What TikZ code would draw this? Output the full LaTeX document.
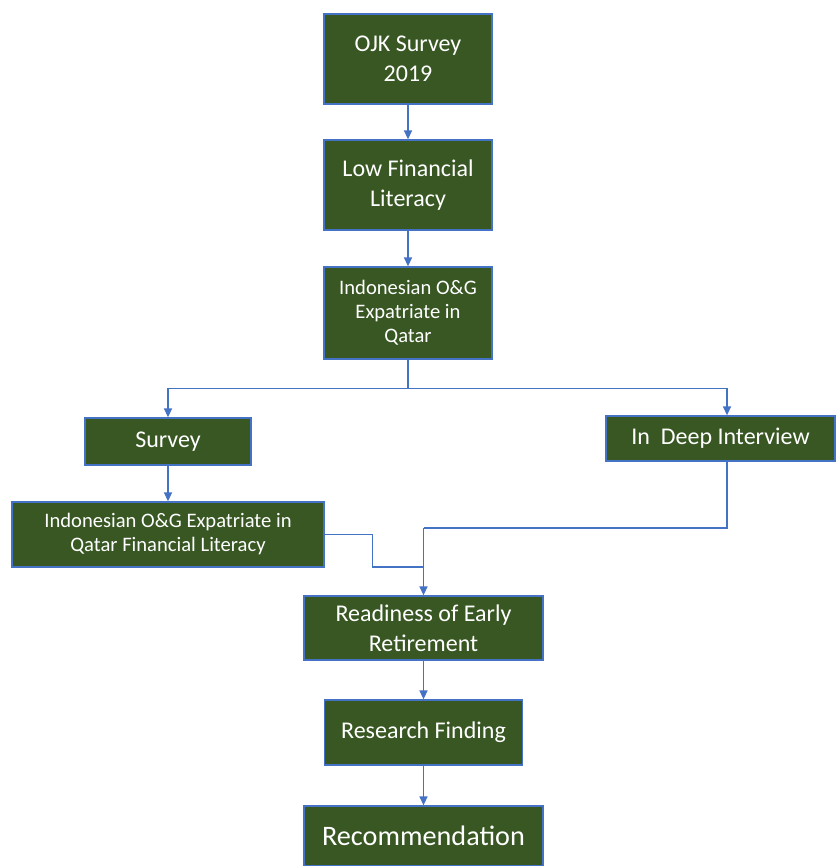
\documentclass[tikz,border=0pt]{standalone}
\usepackage{fontspec}
\setmainfont{Carlito}
\usepackage{tikz}
\usetikzlibrary{arrows.meta,positioning,calc}
\definecolor{boxgreen}{HTML}{385723}
\definecolor{linkblue}{HTML}{4472C4}
\tikzset{
  >={Triangle[length=9pt,width=8pt]},
  % rutor
  fb/.style={rectangle,draw=linkblue,fill=boxgreen,line width=1.3pt,text=white,
             align=center,inner sep=0pt,font=\fontsize{24}{30}\selectfont},
  fbs/.style={fb,font=\fontsize{20.6}{24}\selectfont},
  fbl/.style={fb,font=\fontsize{28.2}{32}\selectfont},
  % pilar
  fl/.style={draw=linkblue,line width=1.4pt},
  fa/.style={->,draw=linkblue,line width=1.4pt},
}
\begin{document}
\begin{tikzpicture}[x=1pt,y=-1pt]
  \useasboundingbox (0,0) rectangle (836,866);
  \node[fb,minimum width=168pt,minimum height=90pt] (ojk) at (408,59) {OJK Survey\\2019};
  \node[fb,minimum width=168pt,minimum height=90pt] (low) at (408,185) {Low Financial\\Literacy};
  \node[fbs,minimum width=168pt,minimum height=92pt] (indo) at (408,313) {Indonesian O\&G\\Expatriate in\\Qatar};
  \node[fb,minimum width=166pt,minimum height=47pt] (surv) at (168,441.5) {Survey};
  \node[fb,minimum width=229pt,minimum height=45pt] (intv) at (720.5,438.5) {In~ Deep Interview};
  \node[fbs,minimum width=312pt,minimum height=65pt] (indofl) at (168,534.5) {Indonesian O\&G Expatriate in\\Qatar Financial Literacy};
  \node[fb,minimum width=239pt,minimum height=64pt] (ready) at (423.5,628) {Readiness of Early\\Retirement};
  \node[fb,minimum width=198pt,minimum height=65pt] (find) at (423.5,732.5) {Research Finding};
  \node[fbl,minimum width=239pt,minimum height=60pt] (reco) at (423.5,836) {Recommendation};
  \coordinate (split) at (408,388.5);
  \coordinate (merge) at (423.5,528);
  \draw[fa] (ojk) -- (low);
  \draw[fa] (low) -- (indo);
  \draw[fl] (indo.south) -- (split);
  \draw[fa] (split) -| (surv.north);
  \draw[fa] (split) -| ([xshift=6.5pt]intv.north);
  \draw[fa] (surv) -- (indofl);
  \draw[fl] ([xshift=6.5pt]intv.south) |- (merge);
  \draw[fa] (merge) -- (ready.north);
  \draw[fl] (indofl.east) -- ++(48,0) |- ($(merge)+(0,39)$);
  \draw[fa] (ready) -- (find);
  \draw[fa] (find) -- (reco);
\end{tikzpicture}
\end{document}
